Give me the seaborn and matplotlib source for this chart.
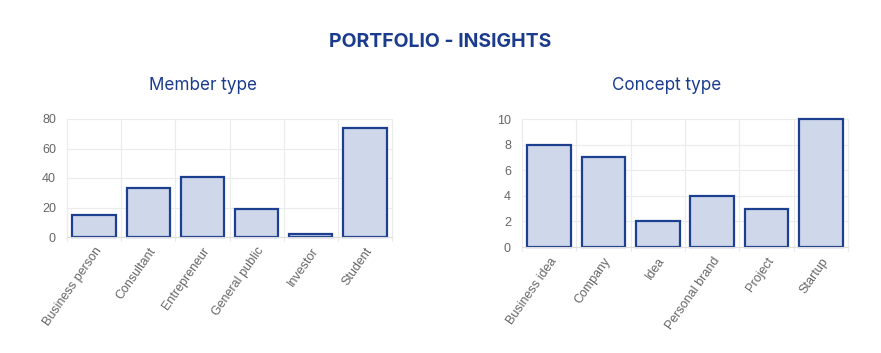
import matplotlib
matplotlib.use("Agg")
import matplotlib.pyplot as plt
import seaborn as sns
import numpy as np

member_types = ["Business person", "Consultant", "Entrepreneur", "General public", "Investor", "Student"]
member_counts = [15, 33, 41, 19, 2, 74]
concept_types = ["Business idea", "Company", "Idea", "Personal brand", "Project", "Startup"]
concept_counts = [8, 7, 2, 4, 3, 10]
member_yticks = [0, 20, 40, 60, 80]
concept_yticks = [0, 2, 4, 6, 8, 10]

sns.set_theme(style="white")
plt.rcParams['font.family'] = ['Liberation Sans', 'DejaVu Sans']

W, H = 881, 353
fig = plt.figure(figsize=(W / 100, H / 100), dpi=100)

TITLE_BLUE = "#1b3c8c"
EDGE = "#1d3f8f"
FILL = "#cfd8eb"
GRID = "#ebebeb"
TICK = "#666666"

def px_axes(x0, x1, ytop, ybot):
    return fig.add_axes([x0 / W, (H - ybot) / H, (x1 - x0) / W, (ybot - ytop) / H])

def draw(ax, cats, vals, yticks):
    sns.barplot(x=cats, y=vals, ax=ax, color=FILL, edgecolor=EDGE, linewidth=1.6,
                width=0.8, saturation=1)
    for p in ax.patches:
        p.set_clip_on(False)
    ax.set_xlim(-0.5, len(cats) - 0.5)
    ax.set_ylim(yticks[0], yticks[-1])
    ax.set_yticks(yticks)
    ax.set_xticks(np.arange(len(cats)))
    ax.set_xticklabels(cats, rotation=55, ha="right", rotation_mode="anchor",
                       fontsize=9, color=TICK)
    ax.tick_params(axis="x", length=0, pad=6)
    ax.tick_params(axis="y", length=0, pad=8, labelsize=9, labelcolor=TICK)
    for y in yticks:
        ax.axhline(y, color=GRID, lw=0.8, zorder=0)
    for xb in np.arange(-0.5, len(cats), 1.0):
        ax.plot([xb, xb], [0, 1], transform=ax.get_xaxis_transform(),
                color=GRID, lw=0.8, zorder=0, clip_on=False)
        ax.plot([xb, xb], [0, -0.035], transform=ax.get_xaxis_transform(),
                color=GRID, lw=0.8, zorder=0, clip_on=False)
    for s in ["top", "right"]:
        ax.spines[s].set_visible(False)
    ax.spines["left"].set_color(GRID)
    ax.spines["bottom"].set_color("#dddddd")
    ax.spines["left"].set_linewidth(0.8)
    ax.spines["bottom"].set_linewidth(0.8)
    ax.set_xlabel("")
    ax.set_ylabel("")

ax1 = px_axes(67, 392, 119, 237)
draw(ax1, member_types, member_counts, member_yticks)
ax2 = px_axes(522, 848, 119, 247)
draw(ax2, concept_types, concept_counts, concept_yticks)

fig.text(440 / W, 1 - 42 / H, "PORTFOLIO - INSIGHTS", ha="center", va="center",
         fontsize=14, fontweight="bold", color=TITLE_BLUE, family=["Inter", "DejaVu Sans"])
fig.text(203 / W, 1 - 86 / H, "Member type", ha="center", va="center",
         fontsize=12.3, color=TITLE_BLUE, family=["Inter", "DejaVu Sans"])
fig.text(667 / W, 1 - 86 / H, "Concept type", ha="center", va="center",
         fontsize=12.3, color=TITLE_BLUE, family=["Inter", "DejaVu Sans"])

fig.savefig("out.png", dpi=100, facecolor="white")
